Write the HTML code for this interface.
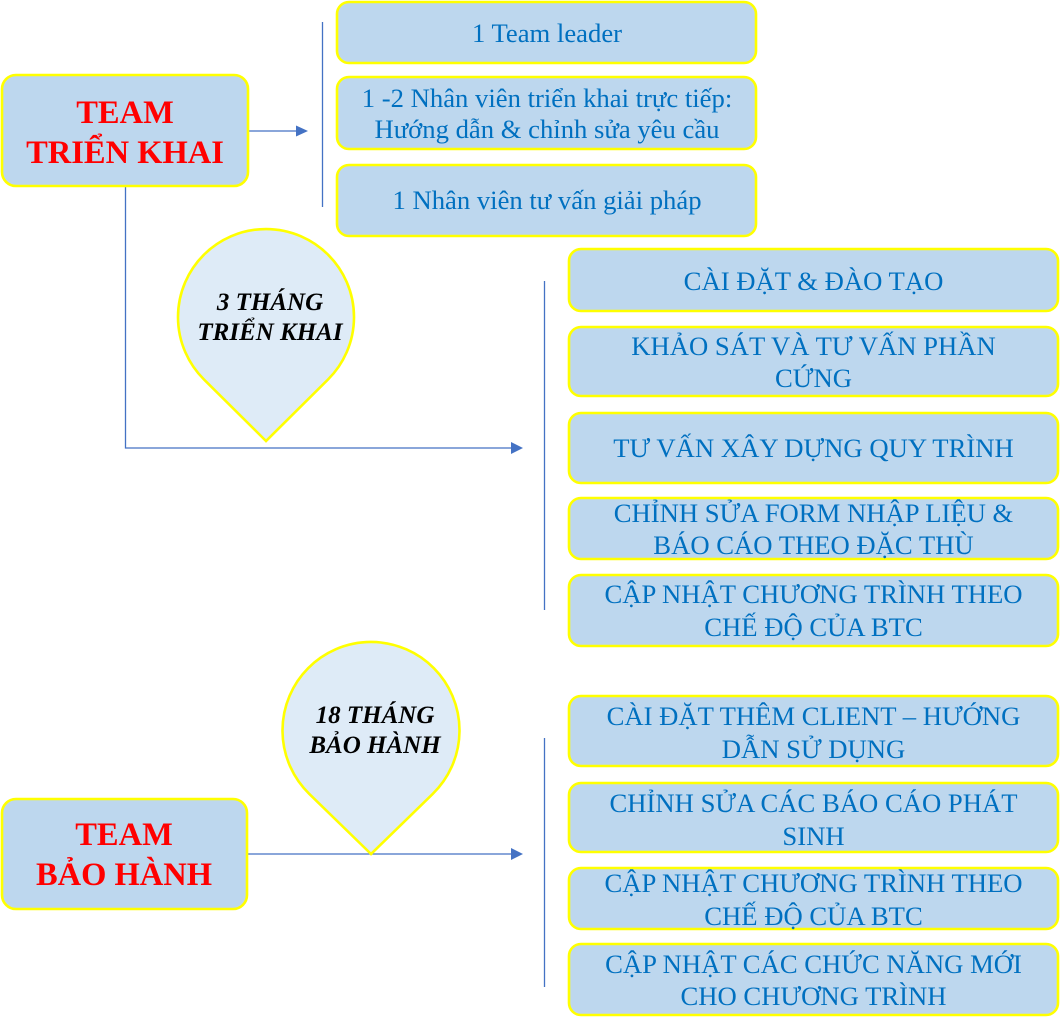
<!DOCTYPE html>
<html>
<head>
<meta charset="utf-8">
<style>
  html, body { margin: 0; padding: 0; background: #ffffff; }
  body { width: 1060px; height: 1029px; overflow: hidden; }
  svg { display: block; }
  .bx { fill: #BDD7EE; stroke: #FFFF00; stroke-width: 2.6; }
  .pin { fill: #DEEBF7; stroke: #FFFF00; stroke-width: 2.6; }
  .ln { stroke: #4472C4; stroke-width: 1.3; fill: none; }
  .ah { fill: #4472C4; }
  .t { font-family: "Liberation Serif", "DejaVu Serif", serif; font-size: 26.67px; fill: #0070C0; text-anchor: middle; }
  .team { font-family: "Liberation Serif", "DejaVu Serif", serif; font-size: 32.5px; font-weight: bold; fill: #FF0000; text-anchor: middle; }
  .pt { font-family: "Liberation Serif", "DejaVu Serif", serif; font-size: 25px; font-weight: bold; font-style: italic; fill: #000000; text-anchor: middle; }
</style>
</head>
<body>
<svg width="1060" height="1029" viewBox="0 0 1060 1029" xmlns="http://www.w3.org/2000/svg">
  <!-- connectors -->
  <line class="ln" x1="249" y1="131" x2="298" y2="131"/>
  <polygon class="ah" points="296,125.5 308,131 296,136.5"/>
  <line class="ln" x1="322.5" y1="22" x2="322.5" y2="207"/>

  <polyline class="ln" points="125.5,187 125.5,448 513,448"/>
  <polygon class="ah" points="511,442 523,448 511,454"/>
  <line class="ln" x1="544.5" y1="281" x2="544.5" y2="610"/>

  <line class="ln" x1="248" y1="854" x2="513" y2="854"/>
  <polygon class="ah" points="511,848 523,854 511,860"/>
  <line class="ln" x1="544.5" y1="738" x2="544.5" y2="987"/>

  <!-- team boxes -->
  <rect class="bx" x="2" y="75" width="246" height="111" rx="14" ry="14"/>
  <text class="team" x="125" y="123">TEAM</text>
  <text class="team" x="125" y="163">TRIỂN KHAI</text>

  <rect class="bx" x="2" y="799" width="245" height="110" rx="14" ry="14"/>
  <text class="team" x="124" y="845">TEAM</text>
  <text class="team" x="124" y="885">BẢO HÀNH</text>

  <!-- pins -->
  <path class="pin" d="M266,441 L204,379.5 A88,88 0 1 1 328,379.5 Z"/>
  <text class="pt" x="270" y="310">3 THÁNG</text>
  <text class="pt" x="270" y="340">TRIỂN KHAI</text>

  <path class="pin" d="M371,854 L309.3,793.9 A88.5,88.5 0 1 1 432.7,793.9 Z"/>
  <text class="pt" x="375" y="723">18 THÁNG</text>
  <text class="pt" x="375" y="753">BẢO HÀNH</text>

  <!-- top staff boxes -->
  <rect class="bx" x="337" y="2" width="419" height="61" rx="12" ry="12"/>
  <text class="t" x="547" y="42">1 Team leader</text>

  <rect class="bx" x="337" y="77" width="419" height="72" rx="12" ry="12"/>
  <text class="t" x="547" y="107">1 -2 Nhân viên triển khai trực tiếp:</text>
  <text class="t" x="547" y="138">Hướng dẫn &amp; chỉnh sửa yêu cầu</text>

  <rect class="bx" x="337" y="165" width="419" height="71" rx="12" ry="12"/>
  <text class="t" x="547" y="209">1 Nhân viên tư vấn giải pháp</text>

  <!-- implementation tasks -->
  <rect class="bx" x="569" y="249" width="489" height="62" rx="12" ry="12"/>
  <text class="t" x="813.5" y="290">CÀI ĐẶT &amp; ĐÀO TẠO</text>

  <rect class="bx" x="569" y="327" width="489" height="69" rx="12" ry="12"/>
  <text class="t" x="813.5" y="355">KHẢO SÁT VÀ TƯ VẤN PHẦN</text>
  <text class="t" x="813.5" y="387">CỨNG</text>

  <rect class="bx" x="569" y="413" width="489" height="70" rx="12" ry="12"/>
  <text class="t" x="813.5" y="457">TƯ VẤN XÂY DỰNG QUY TRÌNH</text>

  <rect class="bx" x="569" y="498" width="489" height="61" rx="12" ry="12"/>
  <text class="t" x="813.5" y="522">CHỈNH SỬA FORM NHẬP LIỆU &amp;</text>
  <text class="t" x="813.5" y="554">BÁO CÁO THEO ĐẶC THÙ</text>

  <rect class="bx" x="569" y="575" width="489" height="71" rx="12" ry="12"/>
  <text class="t" x="813.5" y="603">CẬP NHẬT CHƯƠNG TRÌNH THEO</text>
  <text class="t" x="813.5" y="636">CHẾ ĐỘ CỦA BTC</text>

  <!-- warranty tasks -->
  <rect class="bx" x="569" y="696" width="489" height="70" rx="12" ry="12"/>
  <text class="t" x="813.5" y="725">CÀI ĐẶT THÊM CLIENT – HƯỚNG</text>
  <text class="t" x="813.5" y="758">DẪN SỬ DỤNG</text>

  <rect class="bx" x="569" y="783" width="489" height="69" rx="12" ry="12"/>
  <text class="t" x="813.5" y="812">CHỈNH SỬA CÁC BÁO CÁO PHÁT</text>
  <text class="t" x="813.5" y="845">SINH</text>

  <rect class="bx" x="569" y="868" width="489" height="61" rx="12" ry="12"/>
  <text class="t" x="813.5" y="892">CẬP NHẬT CHƯƠNG TRÌNH THEO</text>
  <text class="t" x="813.5" y="925">CHẾ ĐỘ CỦA BTC</text>

  <rect class="bx" x="569" y="944" width="489" height="71" rx="12" ry="12"/>
  <text class="t" x="813.5" y="973">CẬP NHẬT CÁC CHỨC NĂNG MỚI</text>
  <text class="t" x="813.5" y="1005">CHO CHƯƠNG TRÌNH</text>
</svg>
</body>
</html>
